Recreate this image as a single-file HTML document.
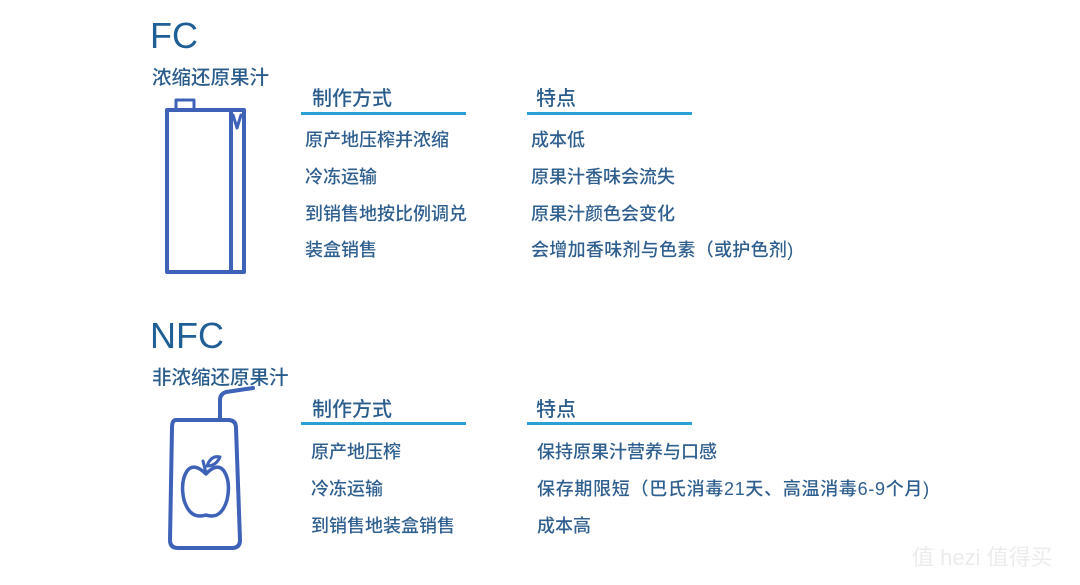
<!DOCTYPE html>
<html><head><meta charset="utf-8"><style>
body{margin:0;width:1080px;height:585px;background:#fff;position:relative;overflow:hidden;font-family:"Liberation Sans","Noto Sans CJK SC",sans-serif;color:#2a5c8c}
.t{position:absolute;white-space:nowrap}
.big{font-size:36px;color:#1f5f96;font-family:"Liberation Sans",sans-serif}
.sub{font-size:19.5px;color:#2a5c8c;font-weight:500}
.h{font-size:20px;color:#2a5c8c;font-weight:500}
.i{font-size:18px;color:#2f5f8f;font-weight:500}
.ln{position:absolute;height:3px;background:#2aa0d6}
</style></head><body>
<div class="t big" style="left:150px;top:15px">FC</div>
<div class="t sub" style="left:152px;top:61px">浓缩还原果汁</div>
<div class="t h" style="left:312px;top:82px">制作方式</div>
<div class="ln" style="left:301px;top:112px;width:165px"></div>
<div class="t h" style="left:536px;top:82px">特点</div>
<div class="ln" style="left:527px;top:112px;width:165px"></div>
<div class="t i" style="left:305px;top:126px">原产地压榨并浓缩</div>
<div class="t i" style="left:305px;top:163px">冷冻运输</div>
<div class="t i" style="left:305px;top:200px">到销售地按比例调兑</div>
<div class="t i" style="left:305px;top:236px">装盒销售</div>
<div class="t i" style="left:531px;top:126px">成本低</div>
<div class="t i" style="left:531px;top:163px">原果汁香味会流失</div>
<div class="t i" style="left:531px;top:200px">原果汁颜色会变化</div>
<div class="t i" style="left:531px;top:236px;letter-spacing:0.3px">会增加香味剂与色素（或护色剂)</div>

<div class="t big" style="left:150px;top:315px">NFC</div>
<div class="t sub" style="left:152px;top:361px">非浓缩还原果汁</div>
<div class="t h" style="left:312px;top:393px">制作方式</div>
<div class="ln" style="left:301px;top:422px;width:165px"></div>
<div class="t h" style="left:536px;top:393px">特点</div>
<div class="ln" style="left:527px;top:422px;width:165px"></div>
<div class="t i" style="left:311px;top:438px">原产地压榨</div>
<div class="t i" style="left:311px;top:475px">冷冻运输</div>
<div class="t i" style="left:311px;top:512px">到销售地装盒销售</div>
<div class="t i" style="left:537px;top:438px">保持原果汁营养与口感</div>
<div class="t i" style="left:537px;top:475px;letter-spacing:0.7px">保存期限短（巴氏消毒21天、高温消毒6-9个月)</div>
<div class="t i" style="left:537px;top:512px">成本高</div>

<svg width="1080" height="585" style="position:absolute;left:0;top:0" fill="none" stroke="#3d62b8" stroke-width="4" stroke-linejoin="round" stroke-linecap="round">
<rect x="176" y="100" width="18" height="10" stroke-width="3"/>
<rect x="167" y="110" width="77" height="162"/>
<line x1="231" y1="110" x2="231" y2="272"/>
<polyline points="233,115 237,128 241,115" stroke-width="3"/>
<path d="M176 420 Q172 420 172 428 L170 540 Q170 548 178 548 L232 548 Q240 548 240 540 L236 428 Q236 420 228 420 Z"/>
<path d="M220 420 L220 400 Q220 394 226 392 L253 388"/>
<path d="M206 474 Q194 462 187 471 Q180 482 184 500 Q190 520 206 515 Q221 520 227 500 Q231 482 224 471 Q217 462 206 474 Z" stroke-width="3.5"/>
<path d="M206 473 L203 461" stroke-width="3"/>
<path d="M207 466 Q211 455 220 457 Q216 466 207 466 Z" stroke-width="3"/>
</svg>
<div class="t" style="left:912px;top:540px;font-size:22px;color:#ececec">值 hezi 值得买</div>
</body></html>
